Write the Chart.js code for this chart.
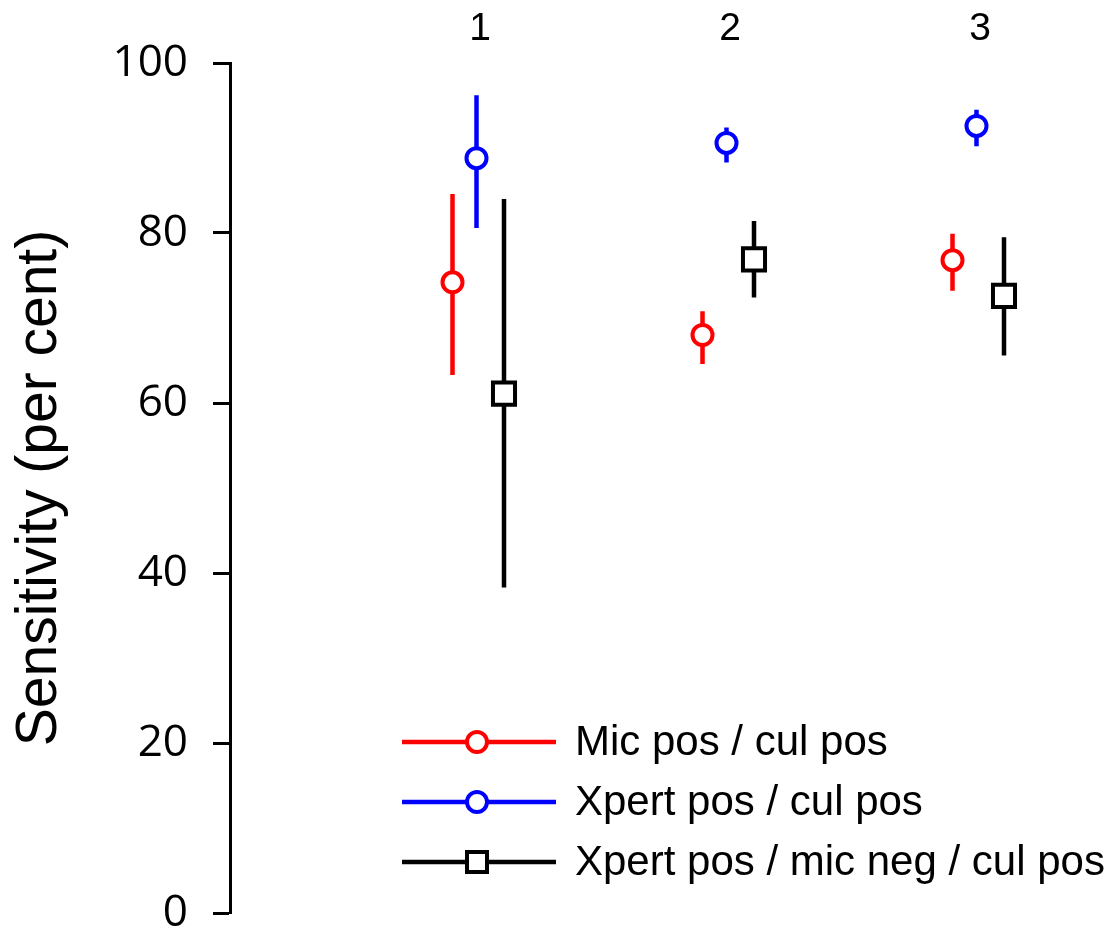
<!DOCTYPE html>
<html>
<head>
<meta charset="utf-8">
<script src="https://cdn.jsdelivr.net/npm/chart.js@4/dist/chart.umd.min.js"></script>
<style>
  html, body { margin: 0; padding: 0; background: #ffffff; overflow: hidden; }
  #wrap { width: 1107px; height: 931px; position: relative; }
</style>
</head>
<body>
<div id="wrap"><canvas id="c"></canvas></div>
<script>
// ---- data ----
const categories = [1, 2, 3];
const categoryLabels = ['1', '2', '3'];
const seriesNames = ['Mic pos / cul pos', 'Xpert pos / cul pos', 'Xpert pos / mic neg / cul pos'];
const micPos = [74.2, 68.0, 76.8];
const micLow = [63.3, 64.6, 73.2];
const micHigh = [84.6, 70.8, 79.9];
const xpertPos = [88.8, 90.6, 92.6];
const xpertLow = [80.6, 88.3, 90.2];
const xpertHigh = [96.2, 92.4, 94.5];
const xpertMicNeg = [61.1, 76.9, 72.6];
const xpertMicNegLow = [38.3, 72.4, 65.6];
const xpertMicNegHigh = [84.0, 81.4, 79.5];
const yTicks = [0, 20, 40, 60, 80, 100];

// ---- styling ----
const seriesColors = ['#ff0000', '#0000ff', '#000000'];
const seriesOffsets = [-0.11, -0.014, 0.096];
const seriesPointStyles = ['circle', 'circle', 'rect'];
const seriesRadii = [10, 10, 15.6];
const values = [micPos, xpertPos, xpertMicNeg];
const lows = [micLow, xpertLow, xpertMicNegLow];
const highs = [micHigh, xpertHigh, xpertMicNegHigh];

const datasets = [];
for (let s = 0; s < 3; s++) {
  datasets.push({
    label: seriesNames[s],
    data: categories.map((c, i) => ({ x: c + seriesOffsets[s], y: values[s][i] })),
    showLine: false,
    pointStyle: seriesPointStyles[s],
    pointRadius: seriesRadii[s],
    pointBorderWidth: 4,
    borderColor: seriesColors[s],
    backgroundColor: '#ffffff',
    pointBackgroundColor: '#ffffff',
    pointBorderColor: seriesColors[s],
    order: 0,
    clip: false
  });
}
for (let s = 0; s < 3; s++) {
  const pts = [];
  categories.forEach((c, i) => {
    pts.push({ x: c + seriesOffsets[s], y: lows[s][i] });
    pts.push({ x: c + seriesOffsets[s], y: highs[s][i] });
    pts.push({ x: c + seriesOffsets[s], y: null });
  });
  datasets.push({
    label: seriesNames[s] + ' CI',
    data: pts,
    showLine: true,
    spanGaps: false,
    pointRadius: 0,
    borderWidth: 4.5,
    borderCapStyle: 'butt',
    borderColor: seriesColors[s],
    backgroundColor: seriesColors[s],
    order: 1,
    clip: false
  });
}

const legendPlugin = {
  id: 'customLegend',
  afterDraw(chart) {
    const ctx = chart.ctx;
    const rows = [742, 802, 862];
    const lineX0 = 402, lineX1 = 556, markX = 477, textX = 575;
    ctx.save();
    for (let s = 0; s < 3; s++) {
      const y = rows[s];
      ctx.strokeStyle = seriesColors[s];
      ctx.lineWidth = 4.3;
      ctx.lineCap = 'butt';
      ctx.beginPath();
      ctx.moveTo(lineX0, y);
      ctx.lineTo(lineX1, y);
      ctx.stroke();
      ctx.fillStyle = '#ffffff';
      ctx.lineWidth = 4;
      ctx.beginPath();
      if (seriesPointStyles[s] === 'circle') {
        ctx.arc(markX, y, 10, 0, Math.PI * 2);
      } else {
        ctx.rect(markX - 10, y - 10, 20, 20);
      }
      ctx.fill();
      ctx.stroke();
      ctx.fillStyle = '#000000';
      ctx.font = '42px "Liberation Sans", Arial, sans-serif';
      ctx.textAlign = 'left';
      ctx.textBaseline = 'middle';
      ctx.fillText(seriesNames[s], textX, y + 1);
    }
    ctx.restore();
  }
};

new Chart(document.getElementById('c'), {
  type: 'scatter',
  data: { datasets },
  options: {
    responsive: true,
    maintainAspectRatio: false,
    animation: false,
    events: [],
    layout: { autoPadding: false, padding: { left: 0, right: 2, top: 0, bottom: 18 } },
    plugins: {
      legend: { display: false },
      tooltip: { enabled: false }
    },
    scales: {
      x: {
        type: 'linear',
        position: 'top',
        min: 0,
        max: 3.5,
        afterBuildTicks(scale) { scale.ticks = categories.map(v => ({ value: v })); },
        afterFit(scale) { scale.height = 63; scale.paddingLeft = 0; scale.paddingRight = 0; },
        grid: { display: false, drawTicks: false },
        border: { display: false },
        ticks: {
          color: '#000000',
          padding: 10,
          maxRotation: 0,
          font: { family: '"Liberation Sans", Arial, sans-serif', size: 39 },
          callback(value) { const i = categories.indexOf(value); return i >= 0 ? categoryLabels[i] : ''; }
        }
      },
      y: {
        type: 'linear',
        position: 'left',
        min: 0,
        max: 100,
        afterBuildTicks(scale) { scale.ticks = yTicks.map(v => ({ value: v })); },
        afterFit(scale) { scale.width = 230; scale.paddingTop = 0; scale.paddingBottom = 0; },
        border: { display: true, color: '#000000', width: 3 },
        grid: {
          drawOnChartArea: false,
          drawTicks: true,
          tickLength: 17,
          tickColor: '#000000',
          tickWidth: 3
        },
        ticks: {
          color: '#000000',
          padding: 25,
          font: { family: '"Open Sans", sans-serif', size: 44 }
        },
        title: {
          display: true,
          text: 'Sensitivity (per cent)',
          color: '#000000',
          padding: { top: 6, bottom: 0 },
          font: { family: '"Liberation Sans", Arial, sans-serif', size: 57 }
        }
      }
    }
  },
  plugins: [legendPlugin]
});
</script>
</body>
</html>
